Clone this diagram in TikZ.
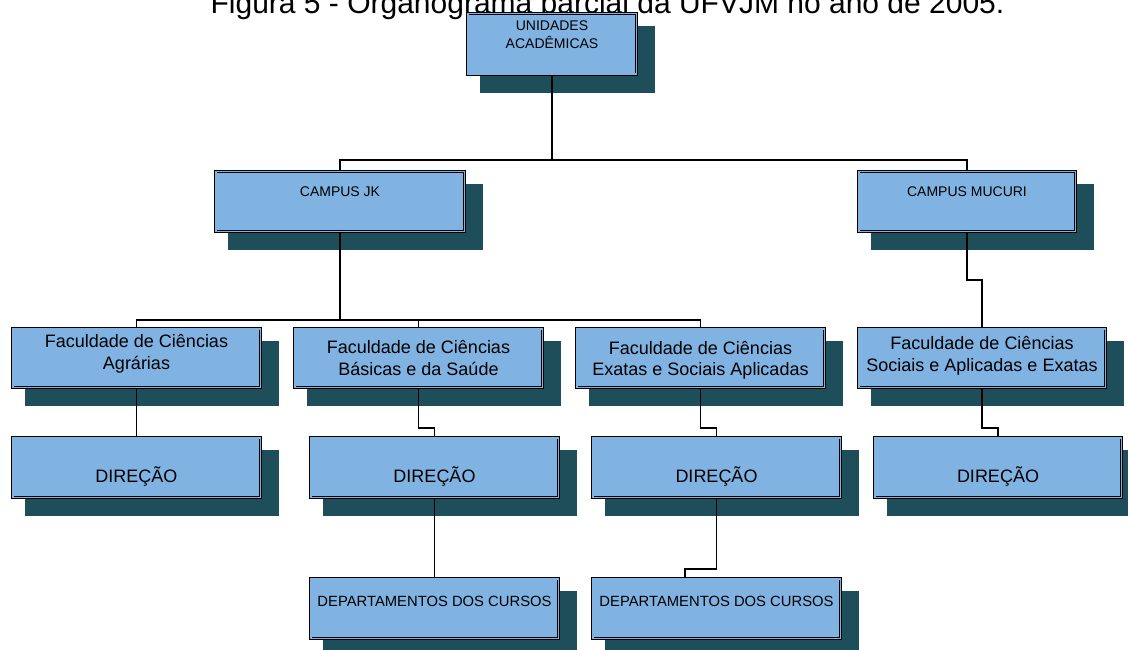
\documentclass[tikz,border=0pt]{standalone}
\usepackage{fontspec}
\setmainfont{Liberation Sans}
\usetikzlibrary{backgrounds}
\definecolor{boxfill}{RGB}{128,178,226}
\definecolor{shadowc}{RGB}{31,78,91}
\begin{document}
\begin{tikzpicture}[x=1pt,y=-1pt,
  orgbox/.style={draw=black, line width=0.9pt, double=boxfill, double distance=1.6pt,
    fill=boxfill, inner sep=0pt, outer sep=1.7pt},
  lblsmall/.style={font=\fontsize{14}{18}\selectfont, align=center},
  lblbig/.style={font=\fontsize{18}{21.5}\selectfont, align=center},
  lbldep/.style={font=\fontsize{14.8}{18}\selectfont, align=center},
  conn/.style={line width=1.1pt, black},
  connthick/.style={line width=1.8pt, black}]
\useasboundingbox (0,0) rectangle (1128,650);

% title (runs past the top edge)
\node[anchor=base, font=\fontsize{30}{36}\selectfont] (title) at (607.5,14)
  {Figura 5 - Organograma parcial da UFVJM no ano de 2005.};

% level 1
\node[orgbox, minimum width=168.6pt, minimum height=60.6pt,
  label={[lblsmall, yshift=9pt]center:{UNIDADES\\ACADÊMICAS}}] (U) at (552,44) {};

% campuses
\node[orgbox, minimum width=248.6pt, minimum height=59.6pt,
  label={[lblsmall, yshift=10pt]center:{CAMPUS JK}}] (JK) at (340,201.5) {};
\node[orgbox, minimum width=216.6pt, minimum height=59.6pt,
  label={[lblsmall, yshift=10pt]center:{CAMPUS MUCURI}}] (MU) at (967,201.5) {};

% faculties
\node[orgbox, minimum width=247.6pt, minimum height=58.6pt,
  label={[lblbig, yshift=4pt]center:{Faculdade de Ciências\\Agrárias}}] (F1) at (136.5,358) {};
\node[orgbox, minimum width=247.6pt, minimum height=58.6pt,
  label={[lblbig, yshift=0pt]center:{Faculdade de Ciências\\Básicas e da Saúde}}] (F2) at (418.5,358) {};
\node[orgbox, minimum width=247.6pt, minimum height=58.6pt,
  label={[lblbig, yshift=-2.5pt]center:{Faculdade de Ciências\\Exatas e Sociais Aplicadas}}] (F3) at (700.5,358) {};
\node[orgbox, minimum width=246.6pt, minimum height=58.6pt,
  label={[lblbig, yshift=2pt]center:{Faculdade de Ciências\\Sociais e Aplicadas e Exatas}}] (F4) at (982,358) {};

% directions
\node[orgbox, minimum width=247.6pt, minimum height=59.6pt,
  label={[lblbig, yshift=-9pt]center:{DIREÇÃO}}] (D1) at (136.5,467.5) {};
\node[orgbox, minimum width=247.6pt, minimum height=59.6pt,
  label={[lblbig, yshift=-9pt]center:{DIREÇÃO}}] (D2) at (434.5,467.5) {};
\node[orgbox, minimum width=247.6pt, minimum height=59.6pt,
  label={[lblbig, yshift=-9pt]center:{DIREÇÃO}}] (D3) at (716.5,467.5) {};
\node[orgbox, minimum width=246.6pt, minimum height=59.6pt,
  label={[lblbig, yshift=-9pt]center:{DIREÇÃO}}] (D4) at (998,467.5) {};

% course departments
\node[orgbox, minimum width=247.6pt, minimum height=59.6pt,
  label={[lbldep, yshift=7.5pt]center:{DEPARTAMENTOS DOS CURSOS}}] (P1) at (434.5,608.5) {};
\node[orgbox, minimum width=247.6pt, minimum height=59.6pt,
  label={[lbldep, yshift=7.5pt]center:{DEPARTAMENTOS DOS CURSOS}}] (P2) at (716.5,608.5) {};

% drop shadows behind every box
\begin{scope}[on background layer]
  \foreach \n in {U,JK,MU,F1,F2,F3,F4,D1,D2,D3,D4,P1,P2}
    \fill[shadowc] ([shift={(14,14)}]\n.north west) rectangle ([shift={(17,17)}]\n.south east);
\end{scope}

% connectors
\coordinate (busA) at (0,160);
\coordinate (busB) at (0,320);
\draw[conn] (U.south) -- (U.south |- busA) -| (JK.north);
\draw[conn] (U.south |- busA) -| (MU.north);

\draw[connthick] (JK.south) -- (JK.south |- busB);
\draw[conn] (F1.north) |- (busB -| F3.north) -- (F3.north);
\draw[conn] (F2.north) -- (F2.north |- busB);

\draw[conn] (MU.south) -- ++(0,47) -| (F4.north);

\draw[conn] (F1.south) -- (D1.north);
\draw[conn] (F2.south) -- ++(0,39) -| (D2.north);
\draw[conn] (F3.south) -- ++(0,39) -| (D3.north);
\draw[conn] (F4.south) -- ++(0,39) -| (D4.north);

\draw[conn] (D2.south) -- (P1.north);
\draw[conn] (D3.south) -- ++(0,70) -| ([xshift=-31.5pt]P2.north);
\end{tikzpicture}
\end{document}
